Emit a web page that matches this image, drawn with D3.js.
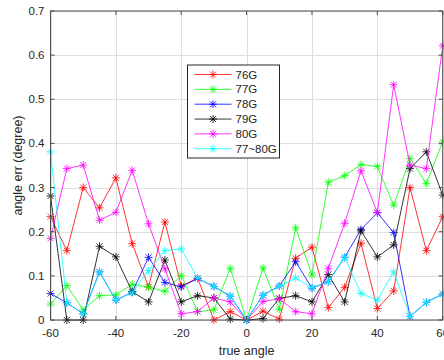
<!DOCTYPE html>
<html>
<head>
<meta charset="utf-8"/>
<script src="https://cdn.jsdelivr.net/npm/d3@7"></script>
<style>
html, body {
  margin: 0;
  padding: 0;
  background: #fff;
  font-family: "Liberation Sans", Arial, Helvetica, sans-serif;
}
.grid line {
  stroke: #dedede;
  stroke-width: 1;
  shape-rendering: crispEdges;
}
.tick-label {
  font-size: 11.5px;
  fill: #262626;
}
.series {
  fill: none;
  stroke-width: 0.8;
}
</style>
</head>
<body>
<svg id="chart" width="444" height="360"></svg>

<script>

// ---- data ----
var angles = [-60, -55, -50, -45, -40, -35, -30, -25, -20, -15, -10, -5, 0,
              5, 10, 15, 20, 25, 30, 35, 40, 45, 50, 55, 60];

var err76G = [0.234, 0.157, 0.300, 0.254, 0.322, 0.173, 0.075, 0.222, 0.077, 0.095, 0.000, 0.019, 0,
              0.020, 0.002, 0.140, 0.165, 0.028, 0.074, 0.174, 0.026, 0.066, 0.300, 0.157, 0.234];
var err77G = [0.036, 0.078, 0.023, 0.055, 0.057, 0.081, 0.074, 0.065, 0.101, 0.019, 0.023, 0.117, 0,
              0.118, 0.024, 0.209, 0.102, 0.312, 0.327, 0.352, 0.348, 0.260, 0.366, 0.309, 0.404];
var err78G = [0.060, 0.039, 0.014, 0.109, 0.045, 0.063, 0.142, 0.085, 0.075, 0.094, 0.076, 0.054, 0,
              0.056, 0.077, 0.132, 0.072, 0.087, 0.142, 0.205, 0.243, 0.198, 0.008, 0.040, 0.059];
var err79G = [0.281, 0.000, 0.000, 0.167, 0.143, 0.064, 0.041, 0.136, 0.041, 0.055, 0.050, 0.002, 0,
              0.003, 0.049, 0.055, 0.041, 0.103, 0.041, 0.202, 0.143, 0.170, 0.343, 0.381, 0.283];
var err80G = [0.185, 0.343, 0.351, 0.226, 0.244, 0.339, 0.218, 0.116, 0.014, 0.019, 0.050, 0.041, 0,
              0.042, 0.048, 0.019, 0.014, 0.117, 0.219, 0.338, 0.243, 0.533, 0.351, 0.343, 0.621];
var err77to80G = [0.381, 0.039, 0.014, 0.109, 0.045, 0.062, 0.112, 0.157, 0.161, 0.095, 0.076, 0.054, 0,
                  0.056, 0.077, 0.095, 0.073, 0.087, 0.142, 0.060, 0.045, 0.109, 0.008, 0.040, 0.059];

var seriesNames = ["76G", "77G", "78G", "79G", "80G", "77~80G"];
var seriesValues = [err76G, err77G, err78G, err79G, err80G, err77to80G];

var xTicks = [-60, -40, -20, 0, 20, 40, 60];
var yTicks = [0, 0.1, 0.2, 0.3, 0.4, 0.5, 0.6, 0.7];

var xLabel = "true angle";
var yLabel = "angle err (degree)";

// ---- styles ----
var colors = ["#ff0000", "#00ff00", "#0000ff", "#000000", "#ff00ff", "#00ffff"];

var plotLeft = 50.5, plotRight = 442.7, plotTop = 11, plotBottom = 320;

var x = d3.scaleLinear().domain([-60, 60]).range([plotLeft, plotRight]);
var y = d3.scaleLinear().domain([0, 0.7]).range([plotBottom, plotTop]);

var svg = d3.select("#chart");

//---------------------------------------
// grid
var grid = svg.append("g").attr("class", "grid");
grid.selectAll("line.gx")
    .data(xTicks)
  .enter().append("line")
    .attr("class", "gx")
    .attr("x1", function(d) { return Math.round(x(d)) + 0.5; })
    .attr("x2", function(d) { return Math.round(x(d)) + 0.5; })
    .attr("y1", plotTop).attr("y2", plotBottom);
grid.selectAll("line.gy")
    .data(yTicks)
  .enter().append("line")
    .attr("class", "gy")
    .attr("y1", function(d) { return Math.round(y(d)) + 0.5; })
    .attr("y2", function(d) { return Math.round(y(d)) + 0.5; })
    .attr("x1", plotLeft).attr("x2", plotRight);

//---------------------------------------
// series, in plot order
function asterisk(sel, r) {
  var a = r * 0.75;
  sel.append("path")
    .attr("d", "M0," + (-r) + "V" + r +
               "M" + (-r) + ",0H" + r +
               "M" + (-a) + "," + (-a) + "L" + a + "," + a +
               "M" + (-a) + "," + a + "L" + a + "," + (-a));
}

var line = d3.line()
    .x(function(d) { return x(d[0]); })
    .y(function(d) { return y(d[1]); });

var plot = svg.append("g");

seriesValues.forEach(function(vals, i) {
  var pts = angles.map(function(a, k) { return [a, vals[k]]; });
  var g = plot.append("g").attr("stroke", colors[i]);
  g.append("path")
    .datum(pts)
    .attr("class", "series")
    .attr("d", line);
  g.selectAll("g.mk")
      .data(pts)
    .enter().append("g")
      .attr("class", "mk")
      .attr("fill", "none")
      .attr("stroke-width", 0.8)
      .attr("transform", function(d) { return "translate(" + x(d[0]) + "," + y(d[1]) + ")"; })
      .each(function() { asterisk(d3.select(this), 4); });
});

//---------------------------------------
// axes box and ticks (inside, on all four sides)
var axisColor = "#4d4d4d";
svg.append("rect")
    .attr("x", plotLeft).attr("y", plotTop)
    .attr("width", plotRight - plotLeft).attr("height", plotBottom - plotTop)
    .attr("fill", "none")
    .attr("stroke", axisColor)
    .attr("stroke-width", 1);

var ticks = svg.append("g").attr("stroke", axisColor).attr("stroke-width", 1);
xTicks.forEach(function(t) {
  ticks.append("line").attr("x1", x(t)).attr("x2", x(t)).attr("y1", plotBottom).attr("y2", plotBottom - 4);
  ticks.append("line").attr("x1", x(t)).attr("x2", x(t)).attr("y1", plotTop).attr("y2", plotTop + 4);
});
yTicks.forEach(function(t) {
  ticks.append("line").attr("y1", y(t)).attr("y2", y(t)).attr("x1", plotLeft).attr("x2", plotLeft + 4);
  ticks.append("line").attr("y1", y(t)).attr("y2", y(t)).attr("x1", plotRight).attr("x2", plotRight - 4);
});

svg.selectAll("text.xt")
    .data(xTicks)
  .enter().append("text")
    .attr("class", "tick-label")
    .attr("x", function(d) { return x(d); })
    .attr("y", plotBottom + 17)
    .attr("text-anchor", "middle")
    .text(function(d) { return d; });

svg.selectAll("text.yt")
    .data(yTicks)
  .enter().append("text")
    .attr("class", "tick-label")
    .attr("x", plotLeft - 6)
    .attr("y", function(d) { return y(d) + 4; })
    .attr("text-anchor", "end")
    .text(function(d) { return d === 0 ? "0" : d3.format(".1f")(d); });

svg.append("text")
    .attr("class", "tick-label")
    .attr("x", (plotLeft + plotRight) / 2)
    .attr("y", 355)
    .attr("text-anchor", "middle")
    .style("font-size", "12.5px")
    .text(xLabel);

svg.append("text")
    .attr("class", "tick-label")
    .attr("transform", "translate(22," + ((plotTop + plotBottom) / 2) + ") rotate(-90)")
    .attr("text-anchor", "middle")
    .style("font-size", "12.5px")
    .text(yLabel);

//---------------------------------------
// legend
var lg = svg.append("g").attr("transform", "translate(187.5,65)");
lg.append("rect")
    .attr("width", 92).attr("height", 93)
    .attr("fill", "#fff")
    .attr("stroke", "#262626")
    .attr("stroke-width", 1);

seriesNames.forEach(function(name, i) {
  var ry = 9.5 + i * 14.85;
  var row = lg.append("g").attr("transform", "translate(0," + ry + ")");
  row.append("line")
    .attr("x1", 7).attr("x2", 44)
    .attr("stroke", colors[i]).attr("stroke-width", 0.8);
  var mk = row.append("g")
    .attr("transform", "translate(25.5,0)")
    .attr("stroke", colors[i]).attr("stroke-width", 0.8);
  asterisk(mk, 4);
  row.append("text")
    .attr("class", "tick-label")
    .attr("x", 48).attr("y", 4)
    .text(name);
});

</script>
</body>
</html>
